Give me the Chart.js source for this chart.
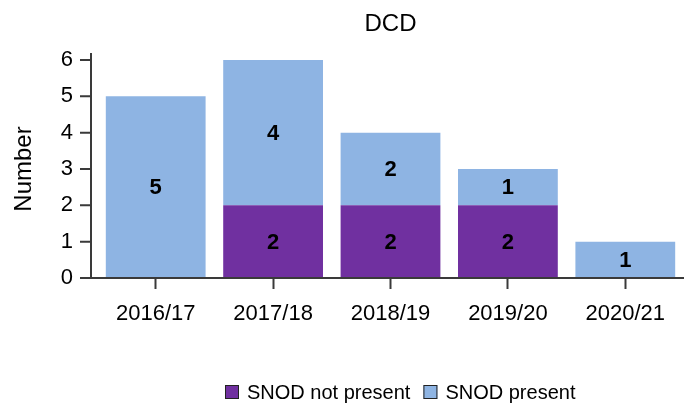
<!DOCTYPE html>
<html>
<head>
<meta charset="utf-8">
<script src="https://cdn.jsdelivr.net/npm/chart.js@4.4.0/dist/chart.umd.min.js"></script>
<style>
  html, body { margin: 0; padding: 0; background: #fff; }
  #wrap { width: 684px; height: 405px; }
</style>
</head>
<body>
<div id="wrap"><canvas id="dcdChart" width="684" height="405"></canvas></div>
<script>
const years = ["2016/17", "2017/18", "2018/19", "2019/20", "2020/21"];
const snodNotPresent = [0, 2, 2, 2, 0];
const snodPresent = [5, 4, 2, 1, 1];
const yTicks = [0, 1, 2, 3, 4, 5, 6];

const purple = "#7030A0";
const lightBlue = "#8EB4E3";
const axisColor = "#3a3a3a";
const fontFamily = "'Liberation Sans', Arial, sans-serif";

// numbers inside each bar segment
const barLabels = {
    id: "barLabels",
    afterDatasetsDraw(chart) {
        const ctx = chart.ctx;
        ctx.save();
        ctx.font = "bold 22px " + fontFamily;
        ctx.fillStyle = "#000";
        ctx.textAlign = "center";
        ctx.textBaseline = "middle";
        chart.data.datasets.forEach((ds, i) => {
            chart.getDatasetMeta(i).data.forEach((bar, j) => {
                const v = ds.data[j];
                if (!v) return;
                ctx.fillText(String(v), bar.x, (bar.y + bar.base) / 2 + 1);
            });
        });
        ctx.restore();
    }
};

// y axis line + ticks sit a little left of the first bar, x axis runs under them,
// plus the title and the legend row at the bottom
const decorations = {
    id: "decorations",
    afterDraw(chart) {
        const ctx = chart.ctx;
        const area = chart.chartArea;
        const y = chart.scales.y;
        const axisX = area.left - 6;
        ctx.save();
        ctx.strokeStyle = axisColor;
        ctx.lineWidth = 2;
        ctx.beginPath();
        ctx.moveTo(axisX, area.top - 7);
        ctx.lineTo(axisX, area.bottom);
        ctx.moveTo(axisX - 11, area.bottom);
        ctx.lineTo(chart.width, area.bottom);
        yTicks.forEach(v => {
            const py = y.getPixelForValue(v);
            ctx.moveTo(axisX - 11, py);
            ctx.lineTo(axisX, py);
        });
        ctx.stroke();

        ctx.fillStyle = "#000";
        ctx.textBaseline = "middle";
        ctx.font = "24px " + fontFamily;
        ctx.textAlign = "center";
        ctx.fillText("DCD", (area.left + area.right) / 2, 24);

        // legend
        ctx.font = "20px " + fontFamily;
        ctx.textAlign = "left";
        let lx = 225;
        const ly = 392;
        chart.data.datasets.forEach(ds => {
            ctx.fillStyle = ds.backgroundColor;
            ctx.fillRect(lx, ly - 7, 14, 14);
            ctx.strokeStyle = "#222";
            ctx.lineWidth = 1;
            ctx.strokeRect(lx + 0.5, ly - 6.5, 13, 13);
            ctx.fillStyle = "#000";
            ctx.fillText(ds.label, lx + 22, ly + 1);
            lx += 22 + ctx.measureText(ds.label).width + 13;
        });
        ctx.restore();
    }
};

new Chart(document.getElementById("dcdChart"), {
    type: "bar",
    data: {
        labels: years,
        datasets: [
            {
                label: "SNOD not present",
                data: snodNotPresent,
                backgroundColor: purple,
                borderWidth: 0,
                categoryPercentage: 0.85,
                barPercentage: 1.0
            },
            {
                label: "SNOD present",
                data: snodPresent,
                backgroundColor: lightBlue,
                borderWidth: 0,
                categoryPercentage: 0.85,
                barPercentage: 1.0
            }
        ]
    },
    options: {
        responsive: false,
        animation: false,
        layout: { padding: { top: 60, right: 0, left: 0, bottom: 0 } },
        scales: {
            x: {
                stacked: true,
                grid: {
                    offset: false,
                    drawOnChartArea: false,
                    drawTicks: true,
                    tickLength: 11,
                    tickColor: axisColor,
                    tickWidth: 2
                },
                border: { display: false },
                ticks: { color: "#000", font: { family: fontFamily, size: 22 }, padding: 12 },
                afterFit(scale) { scale.height = 127; }
            },
            y: {
                stacked: true,
                min: 0,
                max: 6,
                afterBuildTicks(scale) { scale.ticks = yTicks.map(v => ({ value: v })); },
                grid: { display: false, drawTicks: false },
                border: { display: false },
                ticks: { color: "#000", font: { family: fontFamily, size: 22 }, padding: 24 },
                title: {
                    display: true,
                    text: "Number",
                    color: "#000",
                    font: { family: fontFamily, size: 24 },
                    padding: { top: 10, bottom: 0 }
                },
                afterFit(scale) { scale.width = 97; }
            }
        },
        plugins: {
            title: { display: false },
            tooltip: { enabled: false },
            legend: { display: false }
        }
    },
    plugins: [barLabels, decorations]
});
</script>
</body>
</html>
